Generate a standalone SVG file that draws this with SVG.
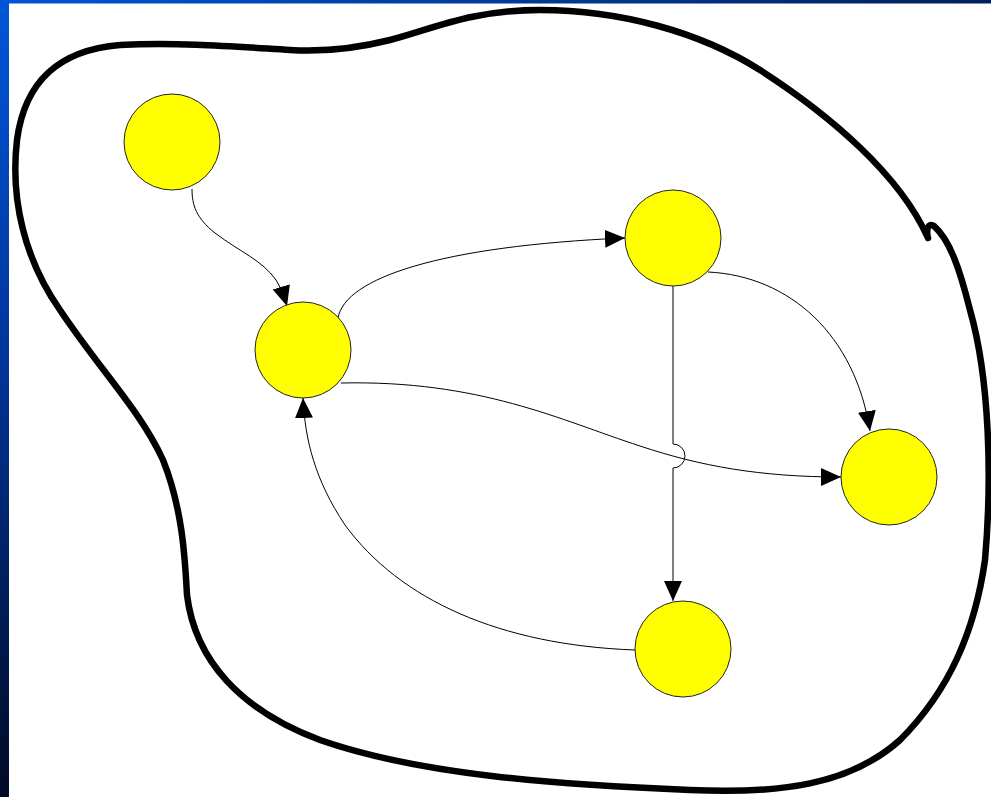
<svg xmlns="http://www.w3.org/2000/svg" width="991" height="797" viewBox="0 0 991 797">
<defs>
<linearGradient id="gl" x1="0" y1="0" x2="0" y2="1"><stop offset="0" stop-color="#0056d8"/><stop offset="0.45" stop-color="#00359a"/><stop offset="1" stop-color="#000a24"/></linearGradient>
<linearGradient id="gt" x1="0" y1="0" x2="1" y2="0"><stop offset="0" stop-color="#0056d8"/><stop offset="1" stop-color="#00205a"/></linearGradient>
<marker id="ah" markerUnits="userSpaceOnUse" markerWidth="21" markerHeight="19" refX="20" refY="9" orient="auto" viewBox="0 0 21 18"><path d="M0,0 L20,9 L0,18 Z" fill="#000"/></marker>
<style>
.node{fill:#ffff00;stroke:#222;stroke-width:1}
.edge{fill:none;stroke:#000;stroke-width:1}
.blob{fill:none;stroke:#000;stroke-width:6.5;stroke-linecap:round;stroke-linejoin:round}
</style>
</defs>
<rect width="991" height="797" fill="#fff"/>
<rect x="0" y="0" width="991" height="3.5" fill="url(#gt)"/>
<rect x="0" y="0" width="9" height="797" fill="url(#gl)"/>
<g id="blob">
<path class="blob" d="M928,238 C900,175 830,115 760,70 C700,32 620,10 540,10 C470,10 430,30 390,40 C350,50 320,52 290,50 C240,47 180,42 120,45 C60,50 25,80 17,140 C10,200 25,260 60,310 C100,370 140,410 163,460 C183,510 185,560 187,595 C195,660 240,710 320,740 C420,775 560,785 690,790 C780,794 850,785 900,740 C950,690 975,630 985,560 C992,480 990,380 970,310 C960,270 950,240 934,226 C928,222 926,230 928,238"/>
</g>
<g id="connectors">
<path class="edge" marker-end="url(#ah)" d="M192,189 C192,205 196,218 215,233 C240,252 262,260 276,280 C281,288 284,296 287,306"/>
<path class="edge" marker-end="url(#ah)" d="M338,318 C345,278 440,246 625,238"/>
<path class="edge" marker-end="url(#ah)" d="M708,272 C790,276 855,335 870,431"/>
<path class="edge" marker-end="url(#ah)" d="M673,286 L673,444 A12,12 0 0 1 673,468 L673,601"/>
<path class="edge" marker-end="url(#ah)" d="M341,383 C480,380 560,420 640,446 C700,466 760,477 841,477"/>
<path class="edge" marker-end="url(#ah)" d="M635,650 C500,645 400,600 345,525 C315,480 305,440 303,398"/>
</g>
<g id="n1"><circle class="node" cx="172" cy="142" r="48"/></g>
<g id="n2"><circle class="node" cx="303" cy="350" r="48"/></g>
<g id="n3"><circle class="node" cx="673" cy="238" r="48"/></g>
<g id="n4"><circle class="node" cx="889" cy="477" r="48"/></g>
<g id="n5"><circle class="node" cx="683" cy="649" r="48"/></g>
</svg>
